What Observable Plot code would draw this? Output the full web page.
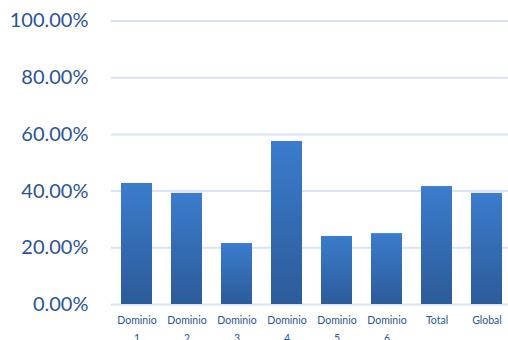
<!DOCTYPE html>
<html>
<head>
<meta charset="utf-8">
<script src="https://cdn.jsdelivr.net/npm/d3@7"></script>
<script src="https://cdn.jsdelivr.net/npm/@observablehq/plot@0.6"></script>
<style>
  html, body { margin: 0; padding: 0; background: #fff; }
  #chart { width: 508px; height: 340px; overflow: hidden; }
</style>
</head>
<body>
<div id="chart"></div>
<script>
const categories = ["Dominio\n1", "Dominio\n2", "Dominio\n3", "Dominio\n4", "Dominio\n5", "Dominio\n6", "Total", "Global"];
const values = [0.427, 0.392, 0.215, 0.575, 0.240, 0.250, 0.416, 0.392];
const yTicks = [0, 0.2, 0.4, 0.6, 0.8, 1.0];

const data = categories.map((c, i) => ({cat: c, v: values[i]}));

const gradientDefs = () => {
  const g = d3.create("svg:g");
  const lg = g.append("defs").append("linearGradient")
    .attr("id", "barGrad").attr("x1", 0).attr("y1", 0).attr("x2", 0).attr("y2", 1);
  lg.append("stop").attr("offset", "0%").attr("stop-color", "#3B7CCD");
  lg.append("stop").attr("offset", "100%").attr("stop-color", "#2C5B99");
  return g.node();
};

const chart = Plot.plot({
  width: 508,
  height: 340,
  marginTop: 20.5,
  marginBottom: 36,
  marginLeft: 111,
  marginRight: 0,
  style: {fontFamily: "Lato, sans-serif", background: "#fff", overflow: "hidden"},
  x: {domain: categories, range: [111.5, 511.5], paddingInner: 0.38, paddingOuter: 0.19, align: 0.5},
  y: {domain: [0, 1], range: [304, 20.5], axis: null},
  marks: [
    gradientDefs,
    Plot.ruleY(yTicks, {stroke: "#D9E3F3", strokeWidth: 2}),
    Plot.barY(data, {x: "cat", y: "v", fill: "url(#barGrad)"}),
    Plot.text(yTicks, {
      y: d => d,
      text: d => (d * 100).toFixed(2) + "%",
      frameAnchor: "left",
      dx: -23,
      textAnchor: "end",
      fontSize: 20,
      fill: "#2B5592"
    }),
    Plot.axisX({
      tickSize: 0,
      tickPadding: 0,
      anchor: "bottom",
      dy: 7,
      lineAnchor: "top",
      lineHeight: 1.7,
      fontSize: 10.5,
      fill: "#2B5592",
      label: null
    })
  ]
});
document.getElementById("chart").appendChild(chart);
</script>
</body>
</html>
